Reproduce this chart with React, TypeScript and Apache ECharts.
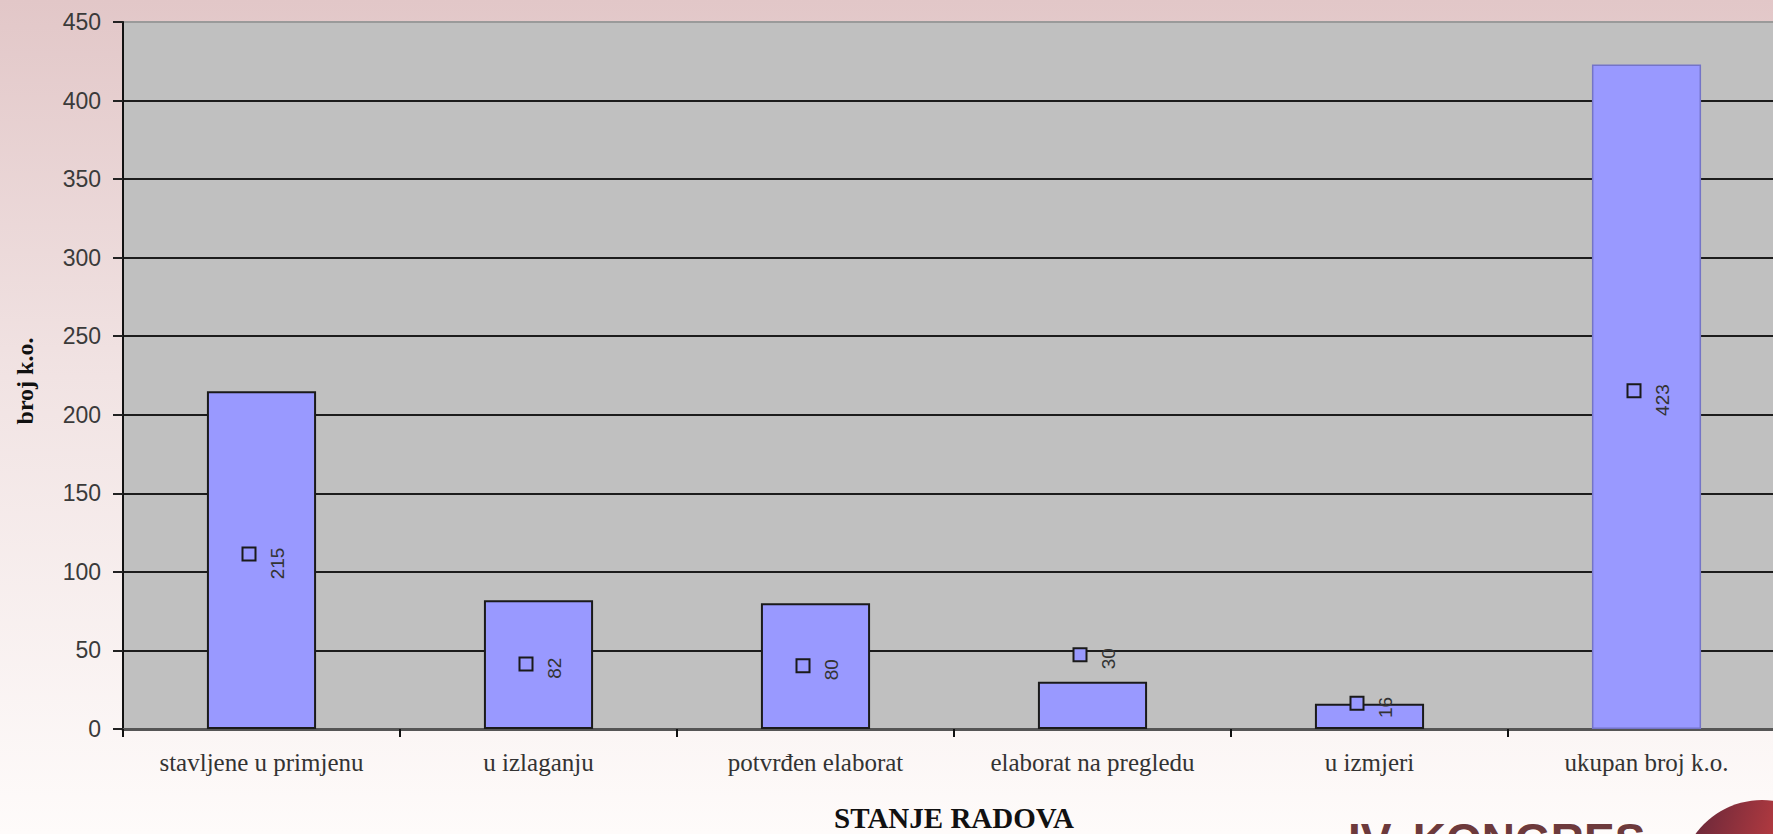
import React, { useEffect, useRef } from "react";
import * as echarts from "echarts";

const categories = [
  "stavljene u primjenu",
  "u izlaganju",
  "potvrđen elaborat",
  "elaborat na pregledu",
  "u izmjeri",
  "ukupan broj k.o.",
];
const values = [215, 82, 80, 30, 16, 423];
// value-axis position where each data label (key square + number) sits
const labelAnchor = [111, 41, 40, 47, 16, 215];
const yTicks = { min: 0, max: 450, interval: 50 };
const yTitle = "broj k.o.";
const xTitle = "STANJE RADOVA";
const logoText = "IV. KONGRES";

const BAR = "#9999ff";

export default function App() {
  const ref = useRef<HTMLDivElement>(null);
  useEffect(() => {
    if (!ref.current) return;
    const chart = echarts.init(ref.current, null, { renderer: "svg" });
    const option: any = {
      animation: false,
      backgroundColor: {
        type: "linear",
        x: 0,
        y: 0,
        x2: 0,
        y2: 1,
        colorStops: [
          { offset: 0, color: "#e2c7c8" },
          { offset: 0.45, color: "#f1e3e3" },
          { offset: 1, color: "#fefbfa" },
        ],
      },
      grid: {
        left: 123,
        top: 22,
        right: 5,
        bottom: 105,
        show: true,
        backgroundColor: "#c0c0c0",
        borderColor: "#9a9a9a",
        borderWidth: 2,
      },
      xAxis: {
        type: "category",
        data: categories,
        axisLine: { show: true, lineStyle: { color: "#555", width: 3 } },
        axisTick: { show: true, length: 8, lineStyle: { color: "#111", width: 2 } },
        axisLabel: {
          margin: 21,
          color: "#333",
          fontFamily: "Liberation Serif",
          fontSize: 25,
          interval: 0,
        },
        splitLine: { show: false },
      },
      yAxis: {
        type: "value",
        min: yTicks.min,
        max: yTicks.max,
        interval: yTicks.interval,
        axisLine: { show: true, lineStyle: { color: "#111", width: 2 } },
        axisTick: { show: true, length: 10, lineStyle: { color: "#222", width: 2 } },
        axisLabel: {
          margin: 22,
          color: "#3a3a3a",
          fontFamily: "Liberation Sans",
          fontSize: 23,
        },
        splitLine: {
          show: true,
          showMinLine: false,
          showMaxLine: false,
          lineStyle: { color: "#1c1c1c", width: 2 },
        },
      },
      series: [
        {
          type: "bar",
          data: values.map((v, i) =>
            i === values.length - 1
              ? { value: v, itemStyle: { borderColor: "#7474c8", borderWidth: 1.5 } }
              : v
          ),
          barWidth: "39.4%",
          itemStyle: { color: BAR, borderColor: "#1a1a1a", borderWidth: 2 },
          z: 2,
        },
        {
          type: "custom",
          z: 5,
          data: values.map((v, i) => [i, labelAnchor[i], v]),
          renderItem: (params: any, api: any) => {
            const p = api.coord([api.value(0), api.value(1)]);
            const v = api.value(2);
            return {
              type: "group",
              children: [
                {
                  type: "rect",
                  shape: { x: p[0] - 19, y: p[1] - 7, width: 13, height: 13 },
                  style: { fill: BAR, stroke: "#1a1a1a", lineWidth: 2 },
                },
                {
                  type: "text",
                  x: p[0] + 16,
                  y: p[1] - 7,
                  rotation: Math.PI / 2,
                  style: {
                    text: String(v),
                    fill: "#333",
                    font: '19px "Liberation Sans"',
                    align: "right",
                    verticalAlign: "middle",
                  },
                },
              ],
            };
          },
        },
      ],
      graphic: [
        {
          type: "text",
          x: 25,
          y: 381,
          rotation: Math.PI / 2,
          style: {
            text: yTitle,
            fill: "#111",
            font: 'bold 24px "Liberation Serif"',
            align: "center",
            verticalAlign: "middle",
          },
        },
        {
          type: "text",
          x: 954,
          y: 818,
          style: {
            text: xTitle,
            fill: "#111",
            font: 'bold 29px "Liberation Serif"',
            align: "center",
            verticalAlign: "middle",
          },
        },
        {
          type: "text",
          x: 1348,
          y: 840,
          style: {
            text: logoText,
            fill: "#6d3a3c",
            font: 'bold 46px "Liberation Sans"',
            align: "left",
            verticalAlign: "middle",
          },
        },
        {
          type: "circle",
          shape: { cx: 1762, cy: 882, r: 82 },
          style: {
            fill: {
              type: "linear",
              x: 0,
              y: 0,
              x2: 1,
              y2: 0.3,
              colorStops: [
                { offset: 0, color: "#5a2438" },
                { offset: 0.6, color: "#b33a40" },
                { offset: 1, color: "#d04a48" },
              ],
            },
          },
        },
      ],
    };
    chart.setOption(option);
    return () => chart.dispose();
  }, []);
  return (
    <div
      style={{
        position: "absolute",
        left: 0,
        top: 0,
        width: 1773,
        height: 834,
        overflow: "hidden",
      }}
    >
      <div ref={ref} style={{ width: 1790, height: 834 }} />
    </div>
  );
}
